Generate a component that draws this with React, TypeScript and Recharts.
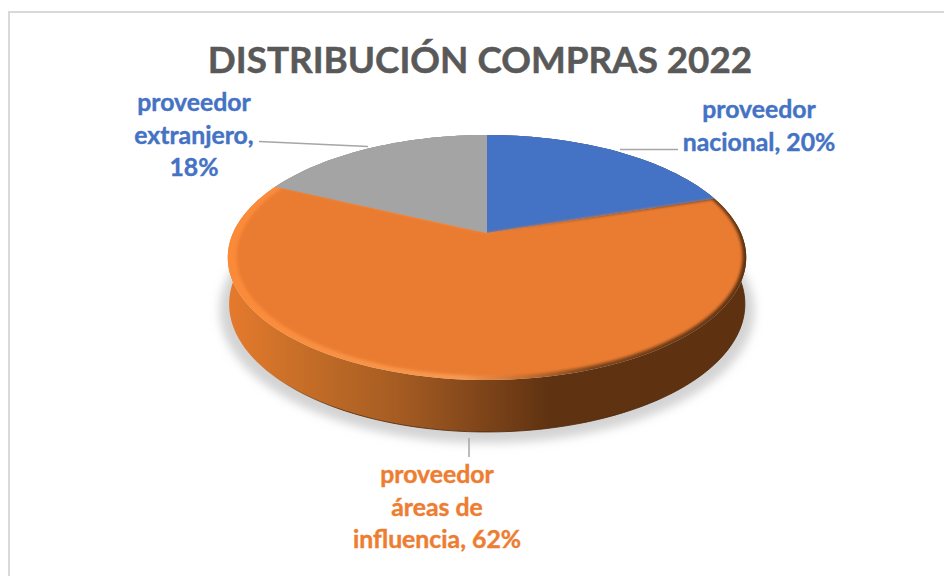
import { PieChart, Pie, Cell } from 'recharts'

const categories = ['proveedor nacional', 'proveedor áreas de influencia', 'proveedor extranjero']
const shares = [20, 62, 18]
const sliceColors = ['#4472C4', '#EA7B30', '#A4A4A4']
const labelColors = ['#4472C4', '#ED7D31', '#4472C4']
const labelLines = [
  ['proveedor', 'nacional, 20%'],
  ['proveedor', 'áreas de', 'influencia, 62%'],
  ['proveedor', 'extranjero,', '18%'],
]

const pieData = categories.map((name, i) => ({ name, value: shares[i] }))

// where each label sits, and its leader line
const labelLayout = [
  { x: 759, y: 118, leader: [620, 149.5, 678, 149.5] },
  { x: 437, y: 483, leader: [469, 438, 469, 457] },
  { x: 194, y: 111, leader: [259, 141.5, 368, 146.5] },
]

const TILT = 0.463
const PERSPECTIVE = 0.2

// a point of the disc rim, seen with perspective
function project(cx: number, cy: number, r: number, deg: number, scale = 1, ryScale = 1, dy = 0) {
  const t = (deg * Math.PI) / 180
  const u = Math.sin(t) * scale
  const v = Math.cos(t) * scale
  const w = 1 + PERSPECTIVE * v
  return [cx + (r * u) / w, cy + dy - (r * TILT * ryScale * v) / w]
}

function rimPoints(props: any, scale = 1, ryScale = 1, dy = 0) {
  const from = 90 - props.startAngle
  const to = 90 - props.endAngle
  const steps = Math.max(2, Math.ceil((to - from) / 2))
  const pts = []
  for (let i = 0; i <= steps; i++) {
    pts.push(project(props.cx, props.cy, props.outerRadius, from + ((to - from) * i) / steps, scale, ryScale, dy))
  }
  return pts
}

const toPath = (pts: number[][]) => pts.map((p, i) => `${i ? 'L' : 'M'}${p[0].toFixed(2)} ${p[1].toFixed(2)}`).join(' ')

function wedgePath(props: any, scale = 1, ryScale = 1, dy = 0, dx = 0) {
  const pts = rimPoints(props, scale, ryScale, dy).map((p) => [p[0] + dx, p[1]])
  return `M${props.cx} ${props.cy + dy} ${toPath(pts).replace('M', 'L')} Z`
}

const ShadowSlice = (props: any) => (
  <path d={wedgePath(props, 1.03, 1.05, 50)} fill="#a8a8a8" fillOpacity={0.5} filter="url(#shadowBlur)" />
)

const WallSlice = (props: any) => {
  const top = rimPoints(props)
  const bottom = rimPoints(props, 0.995, 1.05, 45.6).reverse()
  return (
    <g>
      <path d={`${toPath(top)} ${toPath(bottom).replace('M', 'L')} Z`} fill="url(#wallFill)" />
      <path d={toPath(bottom)} fill="none" stroke="url(#wallEdge)" strokeWidth={1} />
    </g>
  )
}

const RimSlice = (props: any) => <path d={wedgePath(props)} fill={props.index === 1 ? 'url(#rimFill)' : props.fill} />

const TopSlice = (props: any) =>
  props.index === 1 ? (
    <path d={wedgePath(props, 0.977, 1, 0, 2.5)} fill={props.fill} filter="url(#edgeBlur)" />
  ) : (
    <path d={wedgePath(props)} fill={props.fill} />
  )

const SliceLabel = ({ index }: any) => {
  const { x, y, leader } = labelLayout[index]
  return (
    <g>
      <line x1={leader[0]} y1={leader[1]} x2={leader[2]} y2={leader[3]} stroke="#A6A6A6" strokeWidth={1.5} />
      <text
        x={x}
        y={y}
        textAnchor="middle"
        fontFamily="Lato"
        fontWeight={700}
        fontSize={24.8}
        fill={labelColors[index]}
        stroke={labelColors[index]}
        strokeWidth={0.4}
      >
        {labelLines[index].map((line, i) => (
          <tspan key={line} x={x} dy={i ? 32.5 : 0}>
            {line}
          </tspan>
        ))}
      </text>
    </g>
  )
}

const commonPie = {
  data: pieData,
  dataKey: 'value',
  nameKey: 'name',
  cx: 487,
  cy: 233,
  outerRadius: 254,
  startAngle: 90,
  endAngle: -270,
  stroke: 'none',
  isAnimationActive: false,
}

export default function App() {
  return (
    <div style={{ position: 'absolute', left: 0, top: 0, width: 944, height: 576, background: '#fff', overflow: 'hidden' }}>
      <div style={{ position: 'absolute', left: 8, top: 11, width: 960, height: 600, border: '2px solid #D9D9D9' }} />
      <div style={{ position: 'absolute', left: 0, top: 0 }}>
        <PieChart width={944} height={576} margin={{ top: 0, right: 0, bottom: 0, left: 0 }}>
          <defs>
            <linearGradient id="wallFill" gradientUnits="userSpaceOnUse" x1={228} y1={0} x2={747} y2={0}>
              <stop offset="0" stopColor="#E57A2D" />
              <stop offset="0.13" stopColor="#C96F28" />
              <stop offset="0.33" stopColor="#A55C22" />
              <stop offset="0.5" stopColor="#7C4319" />
              <stop offset="0.62" stopColor="#5F3211" />
              <stop offset="1" stopColor="#5E3111" />
            </linearGradient>
            <linearGradient id="wallEdge" gradientUnits="userSpaceOnUse" x1={228} y1={0} x2={747} y2={0}>
              <stop offset="0.06" stopColor="#4A2609" stopOpacity={0} />
              <stop offset="0.22" stopColor="#4A2609" stopOpacity={0.8} />
              <stop offset="1" stopColor="#4A2609" stopOpacity={0.8} />
            </linearGradient>
            <linearGradient id="rimFill" gradientUnits="userSpaceOnUse" x1={228} y1={0} x2={747} y2={0}>
              <stop offset="0" stopColor="#FB8A38" />
              <stop offset="0.45" stopColor="#F7994F" />
              <stop offset="0.56" stopColor="#CC7230" />
              <stop offset="0.7" stopColor="#7A431A" />
              <stop offset="1" stopColor="#5F3211" />
            </linearGradient>
            <filter id="shadowBlur" x="-10%" y="-10%" width="120%" height="120%">
              <feGaussianBlur stdDeviation="5" />
            </filter>
            <filter id="edgeBlur" x="-5%" y="-5%" width="110%" height="110%">
              <feGaussianBlur stdDeviation="1.6" />
            </filter>
          </defs>
          <text
            x={480}
            y={73}
            textAnchor="middle"
            fontFamily="Lato"
            fontWeight={700}
            fontSize={36.8}
            fill="#595959"
            stroke="#595959"
            strokeWidth={0.5}
          >
            DISTRIBUCIÓN COMPRAS 2022
          </text>
          <Pie {...commonPie} shape={ShadowSlice} />
          <Pie {...commonPie} shape={WallSlice} />
          <Pie {...commonPie} shape={RimSlice}>
            {sliceColors.map((c) => (
              <Cell key={c} fill={c} />
            ))}
          </Pie>
          <Pie {...commonPie} shape={TopSlice} label={SliceLabel} labelLine={false}>
            {sliceColors.map((c) => (
              <Cell key={c} fill={c} />
            ))}
          </Pie>
        </PieChart>
      </div>
    </div>
  )
}
